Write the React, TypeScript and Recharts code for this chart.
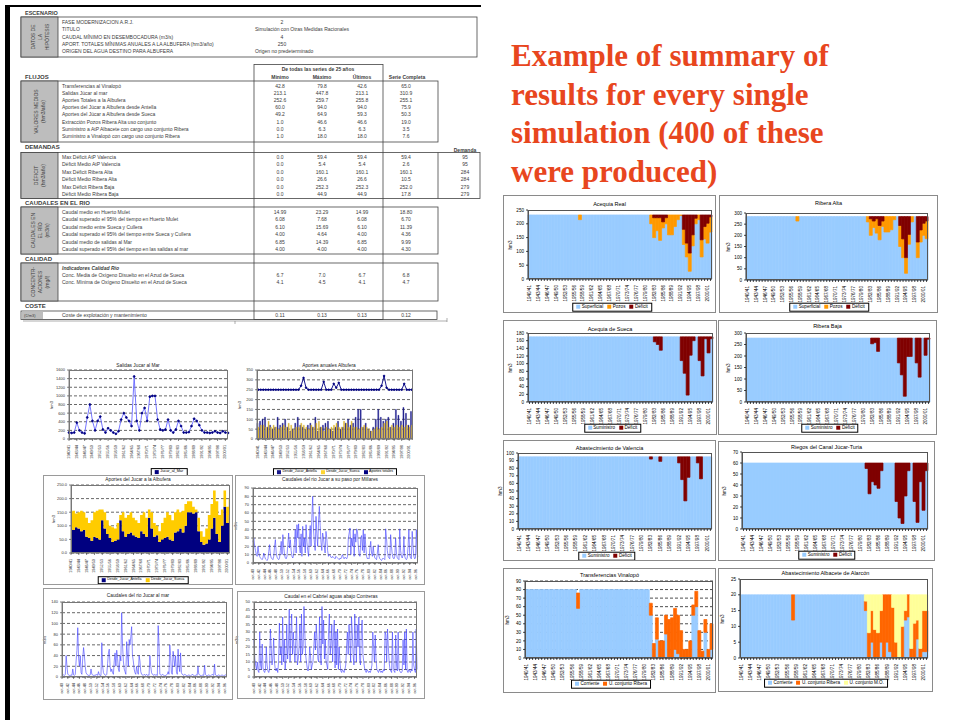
import React from "react";
import { BarChart, Bar, XAxis, YAxis, CartesianGrid, LineChart, Line, ComposedChart, AreaChart, Area } from "recharts";

// ---------- categories ----------
const years = [
  "1940/41","1941/42","1942/43","1943/44","1944/45","1945/46","1946/47","1947/48","1948/49","1949/50",
  "1950/51","1951/52","1952/53","1953/54","1954/55","1955/56","1956/57","1957/58","1958/59","1959/60",
  "1960/61","1961/62","1962/63","1963/64","1964/65","1965/66","1966/67","1967/68","1968/69","1969/70",
  "1970/71","1971/72","1972/73","1973/74","1974/75","1975/76","1976/77","1977/78","1978/79","1979/80",
  "1980/81","1981/82","1982/83","1983/84","1984/85","1985/86","1986/87","1987/88","1988/89","1989/90",
  "1990/91","1991/92","1992/93","1993/94","1994/95","1995/96","1996/97","1997/98","1998/99","1999/00",
  "2000/01","2001/02",
];

// ---------- right charts ----------
const realSup = [
  232,232,232,232,232,232,232,232,232,232, 232,232,232,232,232,232,232,215,232,232,
  232,232,232,232,232,232,232,232,232,232, 232,232,232,232,232,232,232,232,232,232,
  232,200,150,175,140,185,200,160,160,190, 215,230,125,80,28,120,200,215,80,145, 130,170,
];
const realPoz = [
  0,0,0,0,0,0,0,0,0,0, 0,0,0,0,0,0,0,17,0,0, 0,0,0,0,0,0,0,0,0,0, 0,0,0,0,0,0,0,0,0,0,
  0,32,72,47,82,22,22,72,72,42, 17,2,55,50,66,40,20,17,62,45, 72,55,
];
const realDef = [
  0,0,0,0,0,0,0,0,0,0, 0,0,0,0,0,0,0,0,0,0, 0,0,0,0,0,0,0,0,0,0, 0,0,0,0,0,0,0,0,0,0,
  0,0,10,10,10,25,10,0,0,0, 0,0,52,102,138,72,12,0,90,42, 30,7,
];
const altaSup = [
  284,284,284,284,284,284,284,284,284,284, 284,284,284,284,284,284,284,264,284,284,
  284,284,284,284,284,284,284,284,284,284, 284,284,284,284,284,284,284,284,284,284,
  284,260,200,235,210,180,240,215,215,225, 270,284,150,100,30,160,260,284,100,170, 200,185,
];
const altaPoz = [
  0,0,0,0,0,0,0,0,0,0, 0,0,0,0,0,0,0,20,0,0, 0,0,0,0,0,0,0,0,0,0, 0,0,0,0,0,0,0,0,0,0,
  0,24,74,29,64,64,24,69,69,59, 14,0,94,84,70,44,24,0,70,54, 54,79,
];
const altaDef = [
  0,0,0,0,0,0,0,0,0,0, 0,0,0,0,0,0,0,0,0,0, 0,0,0,0,0,0,0,0,0,0, 0,0,0,0,0,0,0,0,0,0,
  0,0,10,20,10,40,20,0,0,0, 0,0,40,100,184,80,0,0,114,60, 30,20,
];
const suecaSum = [
  170,170,170,170,170,170,170,170,170,170, 170,170,170,170,170,170,170,170,170,170,
  170,170,170,170,170,170,170,170,170,170, 170,170,170,170,170,170,170,170,170,170,
  170,170,157,150,135,170,170,170,170,170, 170,108,75,18,122,160,170,108,68,165, 128,165,
];
const suecaDef = [
  0,0,0,0,0,0,0,0,0,0, 0,0,0,0,0,0,0,0,0,0, 0,0,0,0,0,0,0,0,0,0, 0,0,0,0,0,0,0,0,0,0,
  0,0,13,20,35,0,0,0,0,0, 0,62,95,152,48,10,0,62,102,5, 42,5,
];
const bajaSum = [
  278,278,278,278,278,278,278,278,278,278, 278,278,278,278,278,278,278,278,278,278,
  278,278,278,278,278,278,278,278,278,278, 278,278,278,278,278,278,278,278,278,278,
  278,278,253,258,220,278,278,278,278,278, 278,170,118,25,198,198,278,170,108,278, 203,273,
];
const bajaDef = [
  0,0,0,0,0,0,0,0,0,0, 0,0,0,0,0,0,0,0,0,0, 0,0,0,0,0,0,0,0,0,0, 0,0,0,0,0,0,0,0,0,0,
  0,0,25,20,58,0,0,0,0,0, 0,108,160,253,80,80,0,108,170,0, 75,5,
];
const valSum = [
  95,95,95,95,95,95,95,95,95,95, 95,95,95,95,95,95,95,95,95,95, 95,95,95,95,95,95,95,95,95,95,
  95,95,95,95,95,95,95,95,95,95, 95,95,92,95,95,89,95,95,95,95, 95,87,65,37,68,95,95,87,66,95, 95,95,
];
const valDef = [
  0,0,0,0,0,0,0,0,0,0, 0,0,0,0,0,0,0,0,0,0, 0,0,0,0,0,0,0,0,0,0, 0,0,0,0,0,0,0,0,0,0,
  0,0,3,0,0,6,0,0,0,0, 0,8,30,58,27,0,0,8,29,0, 0,0,
];
const turiaSum = [
  60,60,60,60,60,60,60,60,60,60, 60,60,60,60,60,60,60,60,60,60, 60,60,60,60,60,60,60,60,60,60,
  60,60,60,60,60,60,60,60,60,60, 60,55,32,43,40,37,53,60,60,60, 60,25,10,5,30,53,60,25,6,43, 17,53,
];
const turiaDef = [
  0,0,0,0,0,0,0,0,0,0, 0,0,0,0,0,0,0,0,0,0, 0,0,0,0,0,0,0,0,0,0, 0,0,0,0,0,0,0,0,0,0,
  0,5,28,17,20,23,7,0,0,0, 0,35,50,55,30,7,0,35,54,17, 43,7,
];
const vinCorr = [
  80,80,80,80,80,80,80,80,80,80, 80,80,80,80,80,80,80,58,80,80, 80,80,80,80,80,80,80,80,80,80,
  80,80,80,80,80,80,80,80,80,80, 80,50,0,22,0,0,28,0,0,10, 5,0,0,0,0,50,60,0,0,30, 0,10,
];
const vinRib = [
  0,0,0,0,0,0,0,0,0,0, 0,0,0,0,0,0,0,18,0,0, 0,0,0,0,0,0,0,0,0,0, 0,0,0,0,0,0,0,0,0,0,
  0,14,17,25,20,20,22,45,47,48, 45,32,10,10,20,12,18,32,8,15, 10,30,
];
const albCorr = [
  20,20,20,20,20,20,20,20,20,20, 20,20,20,20,20,20,20,12,20,20, 20,20,20,20,20,20,20,20,20,20,
  20,20,20,20,20,20,20,20,20,20, 20,15,0,5,0,0,5,0,5,2, 0,0,0,0,12,13,0,0,6,0, 2,2,
];
const albRib = [
  0,0,0,0,0,0,0,0,0,0, 0,0,0,0,0,0,0,8,0,0, 0,0,0,0,0,0,0,0,0,0, 0,0,0,0,0,0,0,0,0,0,
  0,3,8,10,9,8,10,20,15,18, 16,5,0,10,3,7,3,11,6,3, 13,13,
];
const albMo = [
  0,0,0,0,0,0,0,0,0,0, 0,0,0,0,0,0,0,0,0,0, 0,0,0,0,0,0,0,0,0,0, 0,0,0,0,0,0,0,0,0,0,
  0,2,12,5,11,12,5,0,0,0, 4,15,20,10,5,0,17,9,8,17, 5,5,
];

// ---------- left charts ----------
const salidasMar = [
  150,140,150,380,200,150,130,500,800,420, 200,420,520,220,150,250,200,150,120,180,
  450,600,500,420,300,1450,420,200,600,720, 420,980,1000,1000,450,220,200,220,450,200,
  150,220,420,300,150,150,160,300,470,420, 320,200,150,150,140,150,180,150,140,180, 150,140,
];
const albTotal = [
  250,250,250,250,250,250,250,250,250,250, 250,250,250,250,250,250,250,270,310,260,
  250,250,250,250,250,250,290,250,250,250, 280,260,285,250,250,250,250,250,250,250,
  250,250,250,250,250,250,250,250,250,270, 320,260,250,250,250,250,250,250,280,250, 250,250,
];
const albAntella = [
  80,90,100,110,60,70,50,60,110,70, 80,100,60,40,50,80,110,70,60,50, 70,80,60,110,40,60,70,80,90,50,
  40,60,90,50,60,80,100,70,80,110, 150,150,60,80,50,40,60,100,150,110, 90,100,110,60,80,150,120,90,160,130, 70,140,
];
const albSueca = [
  60,70,70,60,90,60,70,60,50,60, 70,60,80,70,50,60,60,80,70,60, 50,70,60,80,90,60,40,60,50,60,
  70,80,60,60,90,80,60,90,60,60, 50,60,70,60,50,40,50,60,50,60, 80,90,60,70,60,70,60,70,60,70, 60,70,
];
const apAntella = [
  90,85,95,90,80,85,60,55,45,60, 55,50,120,90,70,55,40,45,50,120, 80,60,70,75,65,60,55,80,70,60,
  130,90,60,65,40,50,55,60,50,45, 75,80,90,75,100,150,150,145,150,80, 40,30,35,50,90,130,70,40,100,170, 110,140,
];
const apSueca = [
  60,70,50,60,75,65,70,55,75,90, 100,110,40,60,50,45,55,45,60,20, 70,70,70,75,65,60,55,60,80,70,
  30,60,50,35,40,60,75,90,90,75, 75,80,60,80,80,40,40,25,10,50, 40,30,55,90,90,100,120,100,60,60, 60,60,
];
const millares = [
  25,30,20,15,10,8,20,12,8,6,
  5,4,6,12,8,5,4,3,5,14, 22,10,6,5,4,8,20,28,12,7,
  5,4,6,15,26,10,34,20,10,6, 5,8,22,36,18,28,15,8,6,10,
  25,40,12,46,30,47,20,12,35,8, 44,20,30,12,46,25,15,8,30,45,
  20,55,80,40,25,15,56,35,20,48,
  68,45,25,15,36,30,20,12,38,30, 15,8,10,9,7,
  6,8,7,6,5,8,7,6,5,4, 6,5,8,10,6,5,7,6,5,8,
  30,36,42,10,30,20,40,8,35,25, 41,38,20,10,8,30,33,15,40,12, 35,20,8,5,6,
  5,18,26,12,8,20,10,6,5,4, 12,22,8,5,4,3,5,6,5,4,
  41,30,15,8,6,5,34,20,10,6, 5,8,30,12,6,5,4,41,15,8, 6,10,32,8,5,4,6,20,40,10, 6,5,38,20,8,5,6,40,10,8,
];
const alMar = [
  3,3,4,3,5,40,20,5,4,3, 3,4,3,15,4,3,5,30,50,92, 35,20,40,8,5,35,55,40,20,8, 5,4,3,3,4,15,5,4,3,3,
  4,3,5,3,10,4,3,3,64,20, 8,5,4,3,5,25,45,52,20,10, 15,8,5,30,45,20,50,35,15,10, 40,30,120,60,30,15,10,5,66,40,
  20,70,60,75,94,40,30,15,8,5, 20,10,5,40,30,10,5,4,3,5, 4,3,5,3,4,3,40,20,8,5, 4,3,5,3,4,3,96,60,5,4,
  3,5,4,3,2,3,4,5,10,5, 60,40,8,5,48,35,20,40,10,5, 52,20,10,45,8,5,4,3,5,4, 3,2,3,4,3,2,3,5,4,3,
  2,3,4,3,20,5,4,3,2,3, 4,3,22,5,3,2,3,4,3,2, 3,5,4,3,24,4,3,2,3,4, 3,2,3,4,3,2,3,4,3,3,
];
const contreras = [
  25,12,8,5,10,4,3,30,8,5, 22,6,4,3,5,20,8,4,3,5,
  32,20,8,12,26,10,5,4,6,3, 10,36,15,20,8,40,10,25,5,12,
  35,12,20,45,10,30,42,15,30,18, 10,25,40,8,12,20,35,10,42,15,
  20,47,30,15,10,6,4,8,20,14, 5,8,10,20,30,18,35,25,12,10,
  40,15,8,47,22,38,12,25,10,8, 5,30,42,15,22,35,10,28,38,6,
  30,8,32,5,20,10,4,3,5,4, 3,5,8,20,30,15,35,25,10,40,
  30,15,8,42,25,10,35,20,40,12, 8,30,38,15,10,6,4,3,5,4,
  3,4,3,5,8,30,20,10,28,12, 5,4,3,5,4,3,4,3,5,4,
  30,28,10,32,20,10,5,4,3,30, 5,4,3,28,8,4,30,5,4,3,
  3,4,25,8,30,5,32,4,3,5, 4,3,5,4,30,8,5,3,32,5,
];
const denseLabels = ["oct-40","oct-42","oct-44","oct-46","oct-48","oct-50","oct-52","oct-54","oct-56","oct-58","oct-60","oct-62","oct-64","oct-66","oct-68","oct-70","oct-72","oct-74","oct-76","oct-78","oct-80","oct-82","oct-84","oct-86","oct-88","oct-90","oct-92","oct-94","oct-96","oct-98","oct-00"];

// ---------- table ----------
const scenarioRows = [
  ["FASE MODERNIZACION A.R.J.", "2"],
  ["TITULO", "Simulación con Otras Medidas Racionales"],
  ["CAUDAL MÍNIMO EN DESEMBOCADURA (m3/s)", "4"],
  ["APORT. TOTALES MÍNIMAS ANUALES A LA ALBUFERA (hm3/año)", "250"],
  ["ORIGEN DEL AGUA DESTINO PARA ALBUFERA", "Origen no predeterminado"],
];
const flujosRows = [
  ["Transferencias al Vinalopó", "42.8", "79.8", "42.6", "65.0"],
  ["Salidas Júcar al mar", "213.1", "447.8", "213.1", "310.9"],
  ["Aportes Totales a la Albufera", "252.6", "259.7", "255.8", "255.1"],
  ["Aportes del Júcar a Albufera desde Antella", "60.0", "94.0", "94.0", "75.9"],
  ["Aportes del Júcar a Albufera desde Sueca", "49.2", "64.9", "59.3", "50.3"],
  ["Extracción Pozos Ribera Alta uso conjunto", "1.0", "46.6", "46.6", "19.0"],
  ["Suministro a AtP Albacete con cargo uso conjunto Ribera", "0.0", "6.3", "6.3", "3.5"],
  ["Suministro a Vinalopó con cargo uso conjunto Ribera", "1.0", "18.0", "18.0", "7.6"],
];
const demandRows = [
  ["Max Déficit AtP Valencia", "0.0", "59.4", "59.4", "59.4", "95"],
  ["Déficit Medio AtP Valencia", "0.0", "5.4", "5.4", "2.6", "95"],
  ["Max Déficit Ribera Alta", "0.0", "160.1", "160.1", "160.1", "284"],
  ["Déficit Medio Ribera Alta", "0.0", "26.6", "26.6", "10.5", "284"],
  ["Max Déficit Ribera Baja", "0.0", "252.3", "252.3", "252.0", "279"],
  ["Déficit Medio Ribera Baja", "0.0", "44.9", "44.9", "17.8", "279"],
];
const caudalRows = [
  ["Caudal medio en Huerto Mulet", "14.99", "23.29", "14.99", "18.80"],
  ["Caudal superado el 95% del tiempo en Huerto Mulet", "6.08", "7.68", "6.08", "6.70"],
  ["Caudal medio entre Sueca y Cullera", "6.10", "15.69", "6.10", "11.39"],
  ["Caudal superado el 95% del tiempo entre Sueca y Cullera", "4.00", "4.64", "4.00", "4.36"],
  ["Caudal medio de salidas al Mar", "6.85", "14.39", "6.85", "9.99"],
  ["Caudal superado el 95% del tiempo en las salidas al mar", "4.00", "4.00", "4.00", "4.30"],
];
const calidadRows = [
  ["Conc. Media de Oxígeno Disuelto en el Azud de Sueca", "6.7", "7.0", "6.7", "6.8"],
  ["Conc. Mínima de Oxígeno Disuelto en el Azud de Sueca", "4.1", "4.5", "4.1", "4.7"],
];
const costeRows = [["Coste de explotación y mantenimiento", "0.11", "0.13", "0.13", "0.12"]];

const titleLines = ["Example of summary of", "results for every single", "simulation (400 of these", "were produced)"];

const SANS = "'Liberation Sans', Arial, sans-serif";
const TXT = "#3c3c3c";
const FS = 5;
const COLX = [280, 322, 362, 406, 465];

type Box = { x: number; y: number; w: number; h: number };
type Ser = { key: string; name: string; color: string };

function T({ x, y, s, a = "start", fs = FS, w = 400 }: { x: number; y: number; s: string; a?: string; fs?: number; w?: number }) {
  return (
    <text x={x} y={y} fontSize={fs} fontFamily={SANS} fill={TXT} textAnchor={a as any} dominantBaseline="central" fontWeight={w}>
      {s}
    </text>
  );
}

function GreyCell({ x, y, w, h, lines }: { x: number; y: number; w: number; h: number; lines: string[] }) {
  const cx = x + w / 2;
  const cy = y + h / 2;
  const n = lines.length;
  return (
    <g>
      <rect x={x} y={y} width={w} height={h} fill="#bdbdbd" stroke="#444" strokeWidth={0.8} />
      {lines.map((l, i) => {
        const lx = cx + (i - (n - 1) / 2) * 7;
        return (
          <text key={i} x={lx} y={cy} fontSize={5} fontFamily={SANS} fill={TXT} textAnchor="middle" dominantBaseline="central" transform={`rotate(-90 ${lx} ${cy})`}>
            {l}
          </text>
        );
      })}
    </g>
  );
}

function Section({ rows, y0, dy }: { rows: string[][]; y0: number; dy: number }) {
  return (
    <g>
      {rows.map((r, i) => (
        <g key={i}>
          <T x={62} y={y0 + i * dy} s={r[0]} />
          {r.slice(1).map((v, j) => (
            <T key={j} x={COLX[j]} y={y0 + i * dy} s={v} a="middle" />
          ))}
        </g>
      ))}
    </g>
  );
}

function Table() {
  const box = (x: number, y: number, w: number, h: number) => <rect x={x} y={y} width={w} height={h} fill="none" stroke="#444" strokeWidth={0.8} />;
  return (
    <svg width={490} height={330} style={{ position: "absolute", left: 0, top: 0 }}>
      <T x={25} y={13} s="ESCENARIO" fs={5.5} w={700} />
      {box(21, 17, 456, 40)}
      <GreyCell x={21} y={17} w={37} h={40} lines={["DATOS DE", "LA", "HIPÓTESIS"]} />
      {scenarioRows.map((r, i) => (
        <g key={i}>
          <T x={62} y={22 + i * 7.3} s={r[0]} />
          {/^\d+$/.test(r[1]) ? <T x={282} y={22 + i * 7.3} s={r[1]} a="middle" /> : <T x={255} y={22 + i * 7.3} s={r[1]} />}
        </g>
      ))}

      <T x={25} y={77} s="FLUJOS" fs={6} w={700} />
      <T x={318} y={69} s="De todas las series de 25 años" w={700} a="middle" />
      <T x={280} y={77} s="Mínimo" w={700} a="middle" />
      <T x={322} y={77} s="Máximo" w={700} a="middle" />
      <T x={362} y={77} s="Últimos" w={700} a="middle" />
      <T x={407} y={77} s="Serie Completa" w={700} a="middle" />
      {box(21, 81, 417, 61)}
      <GreyCell x={21} y={81} w={37} h={61} lines={["VALORES MEDIOS", "(hm3/año)"]} />
      <Section rows={flujosRows} y0={85.5} dy={7.2} />

      <T x={25} y={147} s="DEMANDAS" fs={6} w={700} />
      <T x={465} y={150} s="Demanda" w={700} a="middle" />
      {box(21, 152.5, 459, 46)}
      <line x1={438} y1={152.5} x2={438} y2={198.5} stroke="#444" strokeWidth={0.8} />
      <GreyCell x={21} y={152.5} w={37} h={46} lines={["DÉFICIT", "(hm3/año)"]} />
      <Section rows={demandRows} y0={157} dy={7.4} />

      <T x={25} y={203} s="CAUDALES EN EL RIO" fs={6} w={700} />
      {box(21, 207, 417, 47)}
      <GreyCell x={21} y={207} w={37} h={47} lines={["CAUDALES EN", "EL RÍO", "(m3/s)"]} />
      <Section rows={caudalRows} y0={211.7} dy={7.5} />

      <T x={25} y={259} s="CALIDAD" fs={6} w={700} />
      {box(21, 263, 417, 38)}
      <GreyCell x={21} y={263} w={37} h={38} lines={["CONCENTR-", "ACIONES", "(mg/l)"]} />
      <text x={62} y={267.5} fontSize={5} fontFamily={SANS} fill={TXT} fontWeight={700} fontStyle="italic" dominantBaseline="central">Indicadores Calidad Río</text>
      <Section rows={calidadRows} y0={275} dy={7.3} />

      <T x={25} y={306} s="COSTE" fs={6} w={700} />
      {box(21, 311, 416, 8.5)}
      <rect x={22} y={311.5} width={21} height={7.5} fill="#bdbdbd" />
      <T x={24} y={315.3} s="(€/m3)" fs={4} />
      <Section rows={costeRows} y0={315.3} dy={7} />

      <rect x={254} y={64.5} width={129} height={255} fill="none" stroke="#444" strokeWidth={0.8} />
      <line x1={23} y1={321} x2={447} y2={321} stroke="#777" strokeWidth={0.6} />
      <line x1={235} y1={321} x2={235} y2={324} stroke="#777" strokeWidth={0.6} />
      <line x1={447} y1={318} x2={447} y2={322} stroke="#777" strokeWidth={0.6} />
    </svg>
  );
}

function HtmlLegend({ items, cx, cy, fs = 4.6 }: { items: Ser[]; cx: number; cy: number; fs?: number }) {
  return (
    <div
      style={{
        position: "absolute", left: cx, top: cy, transform: "translate(-50%, -50%)", border: "0.8px solid #000",
        padding: "0 3px", display: "flex", gap: 4, alignItems: "center", whiteSpace: "nowrap", background: "#fff",
        fontFamily: SANS, fontSize: fs, lineHeight: `${fs + 2}px`, color: "#000",
      }}
    >
      {items.map((it) => (
        <span key={it.key} style={{ display: "flex", alignItems: "center", gap: 1.5 }}>
          <span style={{ width: 4, height: 4, background: it.color, display: "inline-block" }} />
          {it.name}
        </span>
      ))}
    </div>
  );
}

const yearTick = (props: any) => {
  const { x, y, payload, index } = props;
  if (index % 3 !== 0) return <g />;
  return (
    <text x={x} y={y + 2} fontSize={4.6} fontFamily={SANS} fill="#000" textAnchor="end" dominantBaseline="central" transform={`rotate(-90 ${x} ${y + 2})`}>
      {payload.value}
    </text>
  );
};

type PanelCfg = {
  box: Box; plot: Box; title: string; titleY: number; legendY: number;
  series: Ser[]; rows: Record<string, any>[]; ticks: number[]; grid?: boolean;
};

function RightPanel({ c }: { c: PanelCfg }) {
  const yw = 12;
  const xh = 22;
  const margin = {
    top: c.plot.y - c.box.y,
    left: c.plot.x - c.box.x - yw,
    right: c.box.x + c.box.w - (c.plot.x + c.plot.w),
    bottom: c.box.y + c.box.h - (c.plot.y + c.plot.h) - xh,
  };
  return (
    <div style={{ position: "absolute", left: c.box.x, top: c.box.y, width: c.box.w, height: c.box.h, background: "#fff" }}>
      <BarChart width={c.box.w} height={c.box.h} data={c.rows} margin={margin} barCategoryGap={0} barGap={0}>
        {c.grid && <CartesianGrid vertical={false} stroke="#000" strokeDasharray="3 2" strokeWidth={0.7} />}
        <XAxis dataKey="year" interval={0} height={xh} tick={yearTick} tickSize={2} stroke="#000" strokeWidth={0.7} />
        <YAxis width={yw} ticks={c.ticks} domain={[0, c.ticks[c.ticks.length - 1]]} interval={0} tickSize={2}
          tick={{ fontSize: 4.6, fill: "#000", fontFamily: SANS }} stroke="#000" strokeWidth={0.7} />
        {c.series.map((s) => (
          <Bar key={s.key} dataKey={s.key} stackId="a" fill={s.color} stroke={s.color} strokeWidth={0.7} isAnimationActive={false} />
        ))}
      </BarChart>
      <div style={{ position: "absolute", left: c.plot.x - c.box.x, top: c.plot.y - c.box.y, width: c.plot.w, height: c.plot.h, border: "0.8px solid #555", boxSizing: "border-box" }} />
      <div style={{ position: "absolute", left: 0, width: c.box.w, top: c.titleY - c.box.y - 4, textAlign: "center", fontFamily: SANS, fontSize: 5.5, lineHeight: "8px", color: "#000" }}>{c.title}</div>
      <div style={{ position: "absolute", left: c.plot.x - c.box.x - 21, top: c.plot.y - c.box.y + c.plot.h / 2 - 4, fontFamily: SANS, fontSize: 4.6, lineHeight: "8px", transform: "rotate(-90deg)" }}>hm3</div>
      <HtmlLegend items={c.series} cx={c.plot.x - c.box.x + c.plot.w / 2 - 8} cy={c.legendY - c.box.y} />
      <div style={{ position: "absolute", inset: 0, border: "1px solid #8a8a8a", pointerEvents: "none" }} />
    </div>
  );
}

const SUP: Ser = { key: "sup", name: "Superficial", color: "#99ccff" };
const POZ: Ser = { key: "poz", name: "Pozos", color: "#ff9900" };
const DEF: Ser = { key: "def", name: "Déficit", color: "#800000" };
const SUM: Ser = { key: "sup", name: "Suministro", color: "#99ccff" };
const COR: Ser = { key: "sup", name: "Corriente", color: "#99ccff" };
const RIB: Ser = { key: "rib", name: "U. conjunto Ribera", color: "#ff6600" };
const MO: Ser = { key: "mo", name: "U. conjunto M.O.", color: "#ffff99" };

const rowsOf = (cols: Record<string, number[]>) =>
  years.map((y, i) => {
    const r: Record<string, any> = { year: y };
    Object.keys(cols).forEach((k) => (r[k] = cols[k][i]));
    return r;
  });

const panels: PanelCfg[] = [
  { box: { x: 503, y: 195, w: 213, h: 118 }, plot: { x: 528, y: 210, w: 184, h: 69 }, title: "Acequia Real", titleY: 204, legendY: 307,
    series: [SUP, POZ, DEF], rows: rowsOf({ sup: realSup, poz: realPoz, def: realDef }), ticks: [0, 50, 100, 150, 200, 250] },
  { box: { x: 719, y: 195, w: 219, h: 118 }, plot: { x: 746, y: 213, w: 182, h: 67 }, title: "Ribera Alta", titleY: 203, legendY: 307,
    series: [SUP, POZ, DEF], rows: rowsOf({ sup: altaSup, poz: altaPoz, def: altaDef }), ticks: [0, 50, 100, 150, 200, 250, 300] },
  { box: { x: 503, y: 320, w: 214, h: 115 }, plot: { x: 528, y: 333, w: 185, h: 69 }, title: "Acequia de Sueca", titleY: 329, legendY: 428,
    series: [SUM, DEF], rows: rowsOf({ sup: suecaSum, def: suecaDef }), ticks: [0, 20, 40, 60, 80, 100, 120, 140, 160, 180] },
  { box: { x: 718, y: 320, w: 219, h: 115 }, plot: { x: 746, y: 333, w: 184, h: 69 }, title: "Ribera Baja", titleY: 326, legendY: 428,
    series: [SUM, DEF], rows: rowsOf({ sup: bajaSum, def: bajaDef }), ticks: [0, 50, 100, 150, 200, 250, 300] },
  { box: { x: 503, y: 440, w: 213, h: 121 }, plot: { x: 518, y: 453, w: 194, h: 76 }, title: "Abastecimiento de Valencia", titleY: 448, legendY: 556,
    series: [SUM, DEF], rows: rowsOf({ sup: valSum, def: valDef }), ticks: [0, 10, 20, 30, 40, 50, 60, 70, 80, 90, 100] },
  { box: { x: 718, y: 441, w: 217, h: 120 }, plot: { x: 742, y: 452, w: 186, h: 77 }, title: "Riegos del Canal Júcar-Turia", titleY: 447, legendY: 555,
    series: [SUM, DEF], rows: rowsOf({ sup: turiaSum, def: turiaDef }), ticks: [0, 10, 20, 30, 40, 50, 60, 70] },
  { box: { x: 503, y: 568, w: 213, h: 125 }, plot: { x: 525, y: 581, w: 188, h: 77 }, title: "Transferencias Vinalopó", titleY: 575, legendY: 684,
    series: [COR, RIB], rows: rowsOf({ sup: vinCorr, rib: vinRib }), ticks: [0, 10, 20, 30, 40, 50, 60, 70, 80, 90], grid: true },
  { box: { x: 718, y: 568, w: 215, h: 124 }, plot: { x: 740, y: 579, w: 188, h: 79 }, title: "Abastecimiento Albacete de Alarcón", titleY: 573, legendY: 683,
    series: [COR, RIB, MO], rows: rowsOf({ sup: albCorr, rib: albRib, mo: albMo }), ticks: [0, 5, 10, 15, 20, 25] },
];

// ---------- left panels ----------
type LeftCfg = { box: Box; plot: Box; title: string; titleY: number; ticks: number[]; yLabel: string; border?: boolean };

function LeftFrame({ c, children }: { c: LeftCfg; children: React.ReactNode }) {
  return (
    <div style={{ position: "absolute", left: c.box.x, top: c.box.y, width: c.box.w, height: c.box.h, background: "#fff" }}>
      {children}
      <div style={{ position: "absolute", left: c.plot.x - c.box.x, top: c.plot.y - c.box.y, width: c.plot.w, height: c.plot.h, border: "0.8px solid #777", boxSizing: "border-box" }} />
      <div style={{ position: "absolute", left: 0, width: c.box.w, top: c.titleY - c.box.y - 4, textAlign: "center", fontFamily: SANS, fontSize: 4.8, lineHeight: "8px", color: "#222" }}>{c.title}</div>
      <div style={{ position: "absolute", left: c.plot.x - c.box.x - 24, top: c.plot.y - c.box.y + c.plot.h / 2 - 4, width: 14, textAlign: "center", fontFamily: SANS, fontSize: 4, lineHeight: "8px", transform: "rotate(-90deg)" }}>{c.yLabel}</div>
      {c.border !== false && <div style={{ position: "absolute", inset: 0, border: "1.2px solid #9a9a9a", pointerEvents: "none" }} />}
    </div>
  );
}

function leftMargin(c: LeftCfg, yw: number, xh: number) {
  return {
    top: c.plot.y - c.box.y,
    left: c.plot.x - c.box.x - yw,
    right: c.box.x + c.box.w - (c.plot.x + c.plot.w),
    bottom: c.box.y + c.box.h - (c.plot.y + c.plot.h) - xh,
  };
}

const smallTick = { fontSize: 4, fill: "#333", fontFamily: SANS };
const vTick = (props: any) => {
  const { x, y, payload } = props;
  return (
    <text x={x} y={y + 2} fontSize={3.8} fontFamily={SANS} fill="#333" textAnchor="end" dominantBaseline="central" transform={`rotate(-90 ${x} ${y + 2})`}>
      {payload.value}
    </text>
  );
};

function YearLinePanel() {
  const c: LeftCfg = { box: { x: 43, y: 357, w: 190, h: 120 }, plot: { x: 69, y: 370, w: 159, h: 69 }, title: "Salidas Jucar al Mar", titleY: 366,
    ticks: [0, 200, 400, 600, 800, 1000, 1200, 1400, 1600], yLabel: "hm3", border: false };
  const rows = years.map((y, i) => ({ year: y, v: salidasMar[i] }));
  return (
    <LeftFrame c={c}>
      <LineChart width={c.box.w} height={c.box.h} data={rows} margin={leftMargin(c, 14, 22)}>
        <CartesianGrid vertical={false} stroke="#000" strokeDasharray="3 2" strokeWidth={0.6} />
        <XAxis dataKey="year" interval={2} height={22} tick={vTick} tickSize={2} stroke="#333" strokeWidth={0.6} />
        <YAxis width={14} ticks={c.ticks} domain={[0, 1600]} interval={0} tick={smallTick} tickSize={2} stroke="#333" strokeWidth={0.6} />
        <Line dataKey="v" stroke="#6666ff" strokeWidth={0.9} dot={{ r: 0.9, fill: "#000080", stroke: "#000080" }} isAnimationActive={false} />
      </LineChart>
      <HtmlLegend items={[{ key: "m", name: "Jucar_al_Mar", color: "#000080" }]} cx={126} cy={115} fs={3.8} />
    </LeftFrame>
  );
}

function AnnualPanel() {
  const c: LeftCfg = { box: { x: 235, y: 357, w: 188, h: 120 }, plot: { x: 257, y: 370, w: 156, h: 69 }, title: "Aportes anuales Albufera", titleY: 366,
    ticks: [0, 50, 100, 150, 200, 250, 300, 350], yLabel: "hm3", border: false };
  const rows = years.map((y, i) => ({ year: y, a: albAntella[i], s: albSueca[i], t: albTotal[i] }));
  return (
    <LeftFrame c={c}>
      <ComposedChart width={c.box.w} height={c.box.h} data={rows} margin={leftMargin(c, 12, 22)} barCategoryGap={0} barGap={0}>
        <CartesianGrid vertical={false} stroke="#000" strokeDasharray="3 2" strokeWidth={0.6} />
        <XAxis dataKey="year" interval={2} height={22} tick={vTick} tickSize={2} stroke="#333" strokeWidth={0.6} />
        <YAxis width={12} ticks={c.ticks} domain={[0, 350]} interval={0} tick={smallTick} tickSize={2} stroke="#333" strokeWidth={0.6} />
        <Bar dataKey="a" fill="#1a1a8c" stroke="#1a1a8c" strokeWidth={0.4} isAnimationActive={false} />
        <Bar dataKey="s" fill="#d9b331" stroke="#d9b331" strokeWidth={0.4} isAnimationActive={false} />
        <Line dataKey="t" stroke="#000080" strokeWidth={0.9} dot={{ r: 0.8, fill: "#000080", stroke: "#000080" }} isAnimationActive={false} />
      </ComposedChart>
      <HtmlLegend items={[{ key: "a", name: "Desde_Jucar_Antella", color: "#1a1a8c" }, { key: "s", name: "Desde_Jucar_Sueca", color: "#ffd633" }, { key: "t", name: "Aportes totales", color: "#000080" }]} cx={100} cy={115} fs={3.6} />
    </LeftFrame>
  );
}

function StackAreaPanel() {
  const c: LeftCfg = { box: { x: 43, y: 475, w: 190, h: 110 }, plot: { x: 71, y: 485, w: 159, h: 68 }, title: "Aportes del Jucar a la Albufera", titleY: 480,
    ticks: [0, 50, 100, 150, 200, 250], yLabel: "hm3" };
  const rows = years.map((y, i) => ({ year: y, a: apAntella[i], s: apSueca[i] }));
  return (
    <LeftFrame c={c}>
      <AreaChart width={c.box.w} height={c.box.h} data={rows} margin={leftMargin(c, 16, 20)}>
        <CartesianGrid vertical={false} stroke="#000" strokeDasharray="3 2" strokeWidth={0.6} />
        <XAxis dataKey="year" interval={2} height={20} tick={vTick} tickSize={2} stroke="#333" strokeWidth={0.6} />
        <YAxis width={16} ticks={c.ticks} domain={[0, 250]} interval={0} tick={smallTick} tickFormatter={(v: number) => v.toFixed(1)} tickSize={2} stroke="#333" strokeWidth={0.6} />
        <Area type="step" dataKey="a" stackId="1" stroke="none" fill="#000080" fillOpacity={1} isAnimationActive={false} />
        <Area type="step" dataKey="s" stackId="1" stroke="none" fill="#ffcc00" fillOpacity={1} isAnimationActive={false} />
      </AreaChart>
      <HtmlLegend items={[{ key: "a", name: "Desde_Jucar_Antella", color: "#000080" }, { key: "s", name: "Desde_Jucar_Sueca", color: "#ffcc00" }]} cx={100} cy={105} fs={3.6} />
    </LeftFrame>
  );
}

function DensePanel({ c, values, max }: { c: LeftCfg; values: number[]; max: number }) {
  const step = Math.ceil(values.length / denseLabels.length);
  const rows = values.map((v, i) => ({ i, v }));
  return (
    <LeftFrame c={c}>
      <LineChart width={c.box.w} height={c.box.h} data={rows} margin={leftMargin(c, 10, 20)}>
        <CartesianGrid vertical={false} stroke="#000" strokeDasharray="3 2" strokeWidth={0.6} />
        <XAxis dataKey="i" interval={step - 1} height={20} tick={(p: any) => vTick({ ...p, payload: { value: denseLabels[Math.floor(p.payload.value / step)] || "" } })} tickSize={2} stroke="#333" strokeWidth={0.6} />
        <YAxis width={10} ticks={c.ticks} domain={[0, max]} interval={0} tick={smallTick} tickSize={2} stroke="#333" strokeWidth={0.6} />
        <Line dataKey="v" stroke="#4040ff" strokeWidth={0.6} dot={false} isAnimationActive={false} />
      </LineChart>
    </LeftFrame>
  );
}

export default function App() {
  return (
    <div style={{ position: "absolute", left: 0, top: 0, width: 954, height: 720, background: "#fff", overflow: "hidden" }}>
      <div style={{ position: "absolute", left: 5, top: 5, width: 476, height: 2, background: "#000" }} />
      <div style={{ position: "absolute", left: 5, top: 5, width: 5, height: 715, background: "#000" }} />
      <Table />
      <div style={{ position: "absolute", left: 511, top: 37, fontFamily: "'Liberation Serif', 'Times New Roman', serif", fontWeight: 700, fontSize: 31, lineHeight: "38.5px", color: "#e8461e" }}>
        {titleLines.map((l) => (
          <div key={l}>{l}</div>
        ))}
      </div>
      {panels.map((p) => (
        <RightPanel key={p.title} c={p} />
      ))}
      <YearLinePanel />
      <AnnualPanel />
      <StackAreaPanel />
      <DensePanel values={millares} max={90}
        c={{ box: { x: 235, y: 475, w: 190, h: 110 }, plot: { x: 253, y: 488, w: 165, h: 75 }, title: "Caudales del rio Jucar a su paso por Millares", titleY: 480, ticks: [0, 10, 20, 30, 40, 50, 60, 70, 80, 90], yLabel: "m3/s" }} />
      <DensePanel values={alMar} max={140}
        c={{ box: { x: 43, y: 588, w: 190, h: 112 }, plot: { x: 62, y: 602, w: 165, h: 75 }, title: "Caudales del rio Jucar al mar", titleY: 596, ticks: [0, 20, 40, 60, 80, 100, 120, 140], yLabel: "m3/s" }} />
      <DensePanel values={contreras} max={50}
        c={{ box: { x: 237, y: 591, w: 188, h: 108 }, plot: { x: 254, y: 602, w: 163, h: 75 }, title: "Caudal en el Cabriel aguas abajo Contreras", titleY: 597, ticks: [0, 5, 10, 15, 20, 25, 30, 35, 40, 45, 50], yLabel: "m3/s" }} />
    </div>
  );
}
